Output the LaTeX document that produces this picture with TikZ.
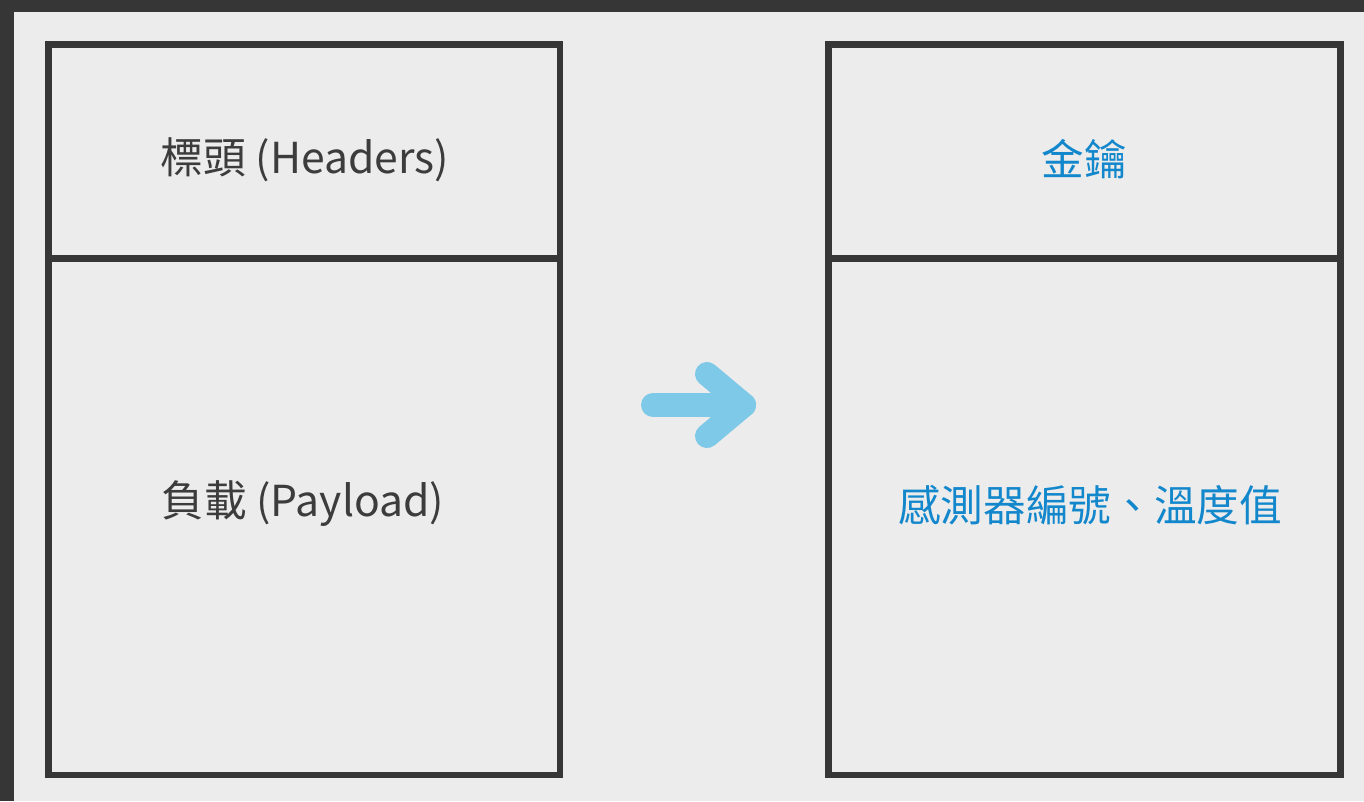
\documentclass[tikz,border=0pt]{standalone}
\usepackage{fontspec}
\setmainfont{Noto Sans CJK TC}
\definecolor{bgc}{HTML}{ECECEC}
\definecolor{darkc}{HTML}{363636}
\definecolor{graytext}{HTML}{3C3C3C}
\definecolor{bluetext}{HTML}{1387CC}
\definecolor{arrowc}{HTML}{7EC8E8}
\tikzset{
  cell/.style={draw=darkc, line width=5pt, inner sep=0pt, minimum width=511.5*0.75pt},
  lbl/.style={inner sep=0pt, anchor=base, font=\fontsize{32pt}{38pt}\selectfont},
  fatarrow/.style={draw=arrowc, line width=18pt, line cap=round, line join=round}
}
\begin{document}
\begin{tikzpicture}[x=0.75pt, y=-0.75pt]
\useasboundingbox (0,0) rectangle (1364,801);
\fill[bgc] (0,0) rectangle (1364,801);
\fill[darkc] (0,0) rectangle (1364,12);
\fill[darkc] (0,0) rectangle (14,801);
% left block
\node[cell, minimum height=214.2*0.75pt] (lhead) at (304.25,151.6) {};
\node[cell, minimum height=516.3*0.75pt] (lpay) at (304.25,516.85) {};
% right block
\node[cell, minimum height=214.2*0.75pt] (rhead) at (1084.5,151.6) {};
\node[cell, minimum height=516.3*0.75pt] (rpay) at (1084.5,516.85) {};
% labels
\node[lbl, text=graytext] (t1) at (305,173) {標頭 (Headers)};
\node[lbl, text=graytext] (t2) at (303,516) {負載 (Payload)};
\node[lbl, text=bluetext] (t3) at (1084,175) {金鑰};
\node[lbl, text=bluetext] (t4) at (1090,521) {感測器編號、溫度值};
% arrow
\coordinate (a0) at (653,405);
\coordinate (a1) at (744,405);
\coordinate (au) at (707,374);
\coordinate (ad) at (707,436);
\draw[fatarrow] (a0) -- (a1);
\draw[fatarrow] (au) -- (a1) -- (ad);
\end{tikzpicture}
\end{document}
